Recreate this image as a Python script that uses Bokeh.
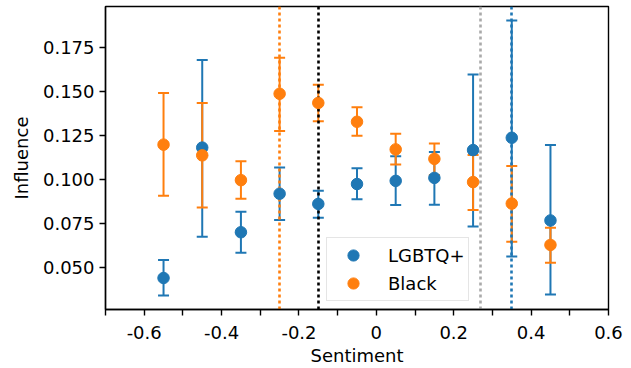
from bokeh.plotting import figure
from bokeh.models import ColumnDataSource, FixedTicker, Legend, LegendItem, Range1d, PrintfTickFormatter
from bokeh.core.properties import value
from bokeh.embed import file_html
from bokeh.resources import INLINE

# ---- data ----
x_centers = [-0.55, -0.45, -0.35, -0.25, -0.15, -0.05, 0.05, 0.15, 0.25, 0.35, 0.45]
lgbtq_mean = [0.0438, 0.1179, 0.0698, 0.0917, 0.0859, 0.0972, 0.0990, 0.1007, 0.1165, 0.1235, 0.0765]
lgbtq_lower = [0.0338, 0.0673, 0.0581, 0.0767, 0.0780, 0.0885, 0.0853, 0.0855, 0.0731, 0.0560, 0.0344]
lgbtq_upper = [0.0541, 0.1677, 0.0814, 0.1066, 0.0934, 0.1062, 0.1130, 0.1154, 0.1594, 0.1902, 0.1194]
black_mean = [0.1196, 0.1135, 0.0994, 0.1485, 0.1433, 0.1326, 0.1169, 0.1115, 0.0983, 0.0861, 0.0626]
black_lower = [0.0906, 0.0838, 0.0889, 0.1273, 0.1329, 0.1247, 0.1083, 0.1024, 0.0825, 0.0644, 0.0524]
black_upper = [0.1489, 0.1432, 0.1102, 0.1690, 0.1537, 0.1408, 0.1258, 0.1203, 0.1137, 0.1074, 0.0723]

vline_x = [-0.25, -0.15, 0.27, 0.35]
vline_colors = ["#ff7f0e", "black", "darkgray", "#1f77b4"]

x_ticks = [-0.7, -0.6, -0.5, -0.4, -0.3, -0.2, -0.1, 0.0, 0.1, 0.2, 0.3, 0.4, 0.5, 0.6]
x_tick_labels = ["", "-0.6", "", "-0.4", "", "-0.2", "", "0", "", "0.2", "", "0.4", "", "0.6"]
y_ticks = [0.050, 0.075, 0.100, 0.125, 0.150, 0.175]

BLUE = "#1f77b4"
ORANGE = "#ff7f0e"
FONT = "DejaVu Sans"
FS = "18px"

p = figure(width=628, height=368, output_backend="svg", toolbar_location=None,
           x_range=Range1d(-0.7, 0.6), y_range=Range1d(0.0259, 0.1981),
           min_border_left=105, min_border_right=20, min_border_top=6, min_border_bottom=57)
p.grid.visible = False
p.outline_line_color = "black"
p.outline_line_width = 1.4

src_l = ColumnDataSource(dict(x=x_centers, y=lgbtq_mean, lo=lgbtq_lower, hi=lgbtq_upper))
src_b = ColumnDataSource(dict(x=x_centers, y=black_mean, lo=black_lower, hi=black_upper))

# error bars
for src, c in ((src_l, BLUE), (src_b, ORANGE)):
    p.segment(x0="x", y0="lo", x1="x", y1="hi", source=src, line_color=c, line_width=2)
    p.scatter(x="x", y="lo", source=src, marker="dash", size=11, line_color=c, line_width=2)
    p.scatter(x="x", y="hi", source=src, marker="dash", size=11, line_color=c, line_width=2)

# vertical dotted lines
vsrc = ColumnDataSource(dict(x=vline_x, color=vline_colors))
p.vspan(x="x", source=vsrc, line_color="color", line_width=2.6, line_dash=value("3 3"))

# markers
r_l = p.scatter(x="x", y="y", source=src_l, size=11.5, fill_color=BLUE, line_color=BLUE)
r_b = p.scatter(x="x", y="y", source=src_b, size=11.5, fill_color=ORANGE, line_color=ORANGE)

# axes
xa = p.xaxis[0]
xa.ticker = FixedTicker(ticks=x_ticks)
xa.major_label_overrides = {t: l for t, l in zip(x_ticks, x_tick_labels)}
xa.axis_label = "Sentiment"
ya = p.yaxis[0]
ya.ticker = FixedTicker(ticks=y_ticks)
ya.formatter = PrintfTickFormatter(format="%.3f")
ya.axis_label = "Influence"
for ax in (xa, ya):
    ax.axis_line_color = "black"
    ax.axis_line_width = 1.4
    ax.major_tick_line_color = "black"
    ax.major_tick_line_width = 1.4
    ax.major_tick_out = 6
    ax.major_tick_in = 0
    ax.minor_tick_line_color = None
    ax.major_label_text_font = FONT
    ax.major_label_text_font_size = FS
    ax.major_label_text_color = "black"
    ax.axis_label_text_font = FONT
    ax.axis_label_text_font_size = FS
    ax.axis_label_text_font_style = "normal"
    ax.axis_label_text_color = "black"
xa.major_label_standoff = 10
xa.axis_label_standoff = 3
ya.major_label_standoff = 5
ya.axis_label_standoff = 8

legend = Legend(items=[LegendItem(label="LGBTQ+", renderers=[r_l]),
                       LegendItem(label="Black", renderers=[r_b])],
                location=(221, 8), margin=0, padding=3, spacing=0,
                glyph_width=46, glyph_height=28, label_height=28, label_standoff=12,
                label_text_font=FONT, label_text_font_size=FS, label_text_color="black",
                border_line_color="#cccccc", border_line_width=1,
                background_fill_color="white", background_fill_alpha=0.8)
p.add_layout(legend, "center")

open("out.html", "w").write(file_html(p, INLINE))
